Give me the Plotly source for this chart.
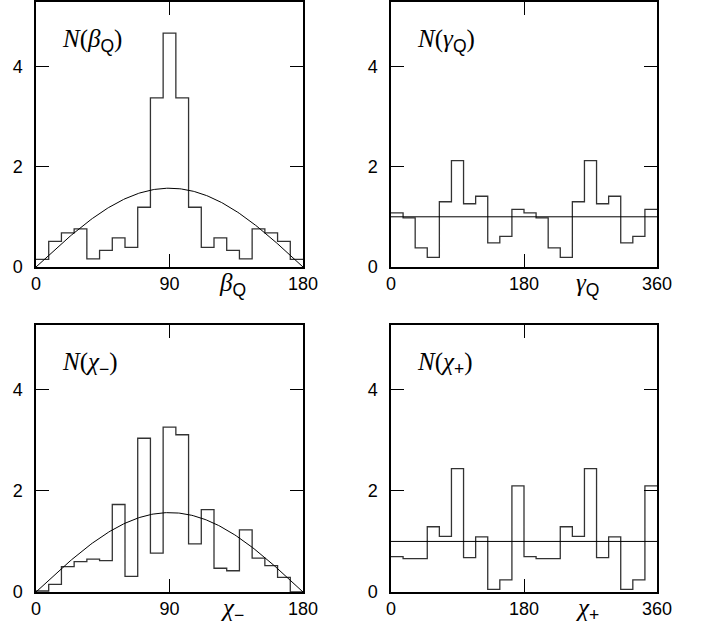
import numpy as np
import plotly.graph_objects as go

# ---------------- data ----------------
beta_vals = [0.15, 0.51, 0.68, 0.76, 0.16, 0.33, 0.58, 0.39, 1.19, 3.37, 4.66,
             3.37, 1.19, 0.39, 0.58, 0.33, 0.16, 0.76, 0.68, 0.51, 0.15]
gamma_vals = [1.08, 0.98, 0.38, 0.19, 1.30, 2.12, 1.26, 1.41, 0.48, 0.61, 1.15,
              1.08, 0.98, 0.38, 0.19, 1.30, 2.12, 1.26, 1.41, 0.48, 0.61, 1.15]
chim_vals = [0.02, 0.15, 0.50, 0.60, 0.65, 0.62, 1.73, 0.31, 3.04, 0.77, 3.26,
             3.11, 0.95, 1.63, 0.47, 0.42, 1.23, 0.67, 0.52, 0.29, 0.0]
chip_vals = [0.70, 0.66, 0.66, 1.29, 1.10, 2.44, 0.68, 1.09, 0.05, 0.24, 2.10,
             0.70, 0.66, 0.66, 1.29, 1.10, 2.44, 0.68, 1.09, 0.05, 0.24, 2.10]
sine_amp = 1.57      # peak of the reference sine curve
flat_level = 1.0     # flat reference line

SUB = "<sub><span style='font-family:Liberation Sans'>{}</span></sub>"
panels = [
    dict(vals=beta_vals, xmax=180, ticks=[0, 90, 180], ref="sine",
         title="<i>N</i>(<i>β</i>" + SUB.format("Q") + ")",
         xlabel="<i>β</i>" + SUB.format("Q")),
    dict(vals=gamma_vals, xmax=360, ticks=[0, 180, 360], ref="flat",
         title="<i>N</i>(<i>γ</i>" + SUB.format("Q") + ")",
         xlabel="<i>γ</i>" + SUB.format("Q")),
    dict(vals=chim_vals, xmax=180, ticks=[0, 90, 180], ref="sine",
         title="<i>N</i>(<i>χ</i>" + SUB.format("−") + ")",
         xlabel="<i>χ</i>" + SUB.format("−")),
    dict(vals=chip_vals, xmax=360, ticks=[0, 180, 360], ref="flat",
         title="<i>N</i>(<i>χ</i>" + SUB.format("+") + ")",
         xlabel="<i>χ</i>" + SUB.format("+")),
]
y_ticks = [0, 2, 4]

W, H = 707, 626
xdoms = [[36 / W, 303 / W], [391 / W, 657 / W]]
ydoms = [[1 - 267 / H, 1 - 2 / H], [1 - 592 / H, 1 - 325 / H]]

fig = go.Figure()
layout = dict(width=W, height=H, margin=dict(l=0, r=0, t=0, b=0),
              paper_bgcolor="white", plot_bgcolor="white", showlegend=False)
annotations = []
for i, p in enumerate(panels):
    row, col = divmod(i, 2)
    n = i + 1
    xa = "x" if n == 1 else f"x{n}"
    ya = "y" if n == 1 else f"y{n}"
    vals = p["vals"]
    edges = np.linspace(0, p["xmax"], len(vals) + 1)
    fig.add_trace(go.Scatter(x=edges, y=list(vals) + [vals[-1]], mode="lines",
                             line=dict(shape="hv", color="#333333", width=1.3),
                             xaxis=xa, yaxis=ya, hoverinfo="skip"))
    if p["ref"] == "sine":
        xs = np.linspace(0, p["xmax"], 181)
        ys = sine_amp * np.sin(np.radians(xs))
    else:
        xs = [0, p["xmax"]]
        ys = [flat_level, flat_level]
    fig.add_trace(go.Scatter(x=xs, y=ys, mode="lines",
                             line=dict(color="black", width=1),
                             xaxis=xa, yaxis=ya, hoverinfo="skip"))
    common = dict(showline=True, linecolor="black", linewidth=1.5, mirror="ticks",
                  ticks="inside", ticklen=13, tickwidth=1.2, tickcolor="black",
                  showgrid=False, zeroline=False, automargin=False,
                  tickfont=dict(family="Liberation Sans", size=18, color="black"))
    layout["xaxis" if n == 1 else f"xaxis{n}"] = dict(
        domain=xdoms[col], range=[0, p["xmax"]], tickvals=p["ticks"],
        anchor=ya, **common)
    layout["yaxis" if n == 1 else f"yaxis{n}"] = dict(
        domain=ydoms[row], range=[0, 5.28], tickvals=y_ticks,
        anchor=xa, ticklabelstandoff=8, **common)
    annotations.append(dict(text=p["title"], xref=f"{xa} domain", yref=f"{ya} domain",
                            x=0.09, y=0.855, xanchor="left", yanchor="middle",
                            showarrow=False,
                            font=dict(family="Liberation Serif", size=25, color="black")))
    annotations.append(dict(text=p["xlabel"], xref=f"{xa} domain", yref=f"{ya} domain",
                            x=0.737, y=0, yshift=-17, xanchor="center", yanchor="middle",
                            showarrow=False,
                            font=dict(family="Liberation Serif", size=25, color="black")))
layout["annotations"] = annotations
fig.update_layout(**layout)
fig.write_html("out.html", config={"displayModeBar": False},
               post_script="document.body.style.margin='0';document.body.style.overflow='hidden';")
